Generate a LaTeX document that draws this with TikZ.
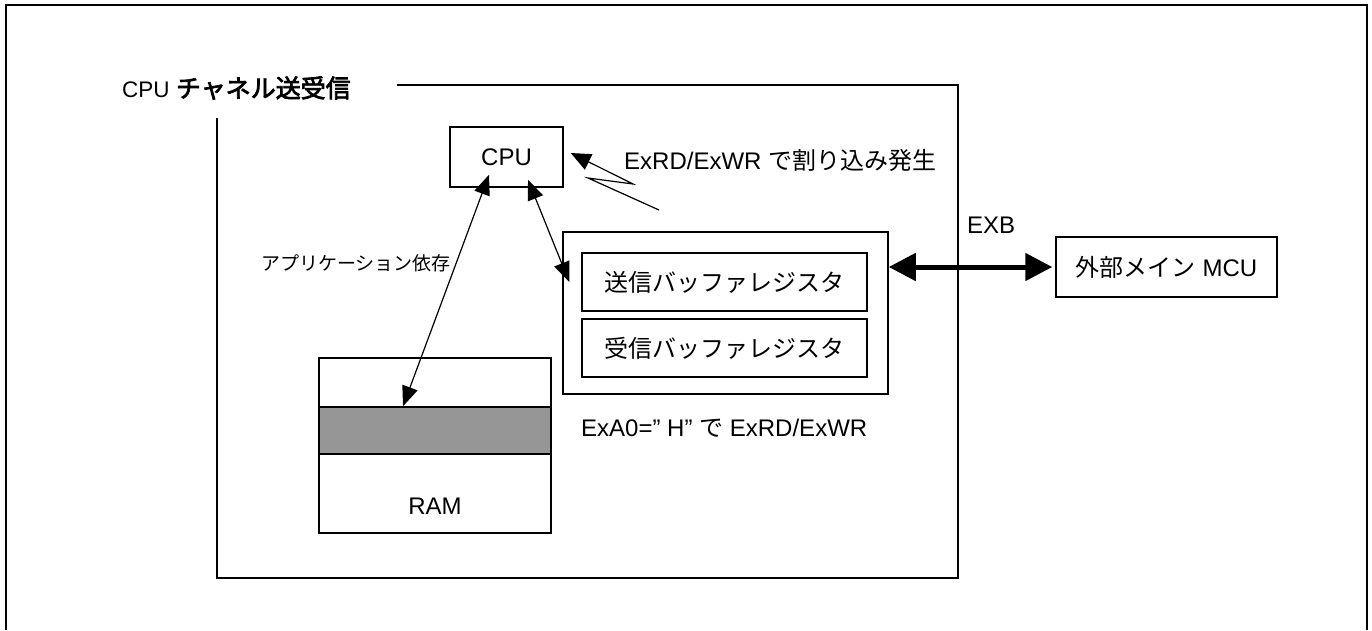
\documentclass[tikz,border=0pt]{standalone}
\usepackage{fontspec}
\setmainfont{Liberation Sans}
\newfontfamily\jp{Noto Sans CJK JP}
\newfontfamily\jpbf[FakeBold=3]{Noto Sans CJK JP}
\usepackage{xcolor}
\usetikzlibrary{arrows.meta}

\definecolor{areagray}{RGB}{150,150,150}

\tikzset{
  boxed/.style={draw, line width=1.5pt, inner sep=0pt},
  lbl/.style={font=\fontsize{24}{28}\selectfont, inner sep=0pt},
  link/.style={line width=1.2pt, {Triangle[length=20pt,width=16pt]}-{Triangle[length=20pt,width=16pt]}},
  bus/.style={line width=5pt, {Triangle[length=27pt,width=27pt]}-{Triangle[length=27pt,width=27pt]}},
}

\begin{document}
\begin{tikzpicture}[x=1pt, y=-1pt]
    \useasboundingbox (0,0) rectangle (1372,630);

    % Outer frame (open at the bottom)
    \draw[line width=2pt] (6,630) -- (6,5) -- (1367,5) -- (1367,630);

    % CPU channel region
    \node[lbl, anchor=west] (title) at (122,88) {\fontsize{22.5}{26}\selectfont CPU {\fontsize{25}{28}\selectfont\jpbf チャネル送受信}};
    \draw[line width=1.5pt] (397,85) -- (958,85) -- (958,578) -- (217,578) -- (217,118);

    % Blocks
    \node[boxed, lbl, minimum width=113pt, minimum height=60pt] (cpu) at (506.5,157) {CPU};
    \node[boxed, minimum width=325pt, minimum height=162pt] (bufbox) at (725.5,313) {};
    \node[boxed, lbl, minimum width=285pt, minimum height=58pt] (sendreg) at (724.5,282) {\jp 送信バッファレジスタ};
    \node[boxed, lbl, minimum width=285pt, minimum height=58pt] (recvreg) at (724.5,348) {\jp 受信バッファレジスタ};
    \node[boxed, minimum width=232pt, minimum height=175pt] (ram) at (435,445.5) {};
    \node[boxed, fill=areagray, minimum width=232pt, minimum height=47pt] (ramarea) at (435,430.5) {};
    \node[lbl] (ramtext) at (435,506) {RAM};
    \node[boxed, lbl, minimum width=221pt, minimum height=60pt] (mcu) at (1166.5,267) {{\jp 外部メイン} MCU};

    % Labels
    \node[lbl, anchor=west] (irq) at (624,160) {ExRD/ExWR {\jp で割り込み発生}};
    \node[lbl, anchor=west] (sel) at (581,428) {ExA0=” H” {\jp で} ExRD/ExWR};
    \node[lbl] (exb) at (991,225) {EXB};
    \node[lbl, font=\fontsize{19}{22}\selectfont, anchor=west] (appdep) at (261,263) {\jp アプリケーション依存};

    % Connections
    \draw[link] ([xshift=-17.5pt,yshift=13pt]cpu.south) -- ([xshift=-32pt]ramarea.north);
    \draw[link] ([xshift=21.5pt,yshift=8pt]cpu.south) -- ([xshift=-12pt]sendreg.west);
    \draw[bus] (bufbox.east |- mcu.west) -- ([xshift=-3pt]mcu.west);

    % Interrupt
    \coordinate (irqsrc) at (659,210);
    \draw[line width=1.2pt, -{Triangle[length=20pt,width=17pt]}] (irqsrc) -- (588,178) -- (633,184) -- ([xshift=7pt,yshift=4pt]cpu.east);
\end{tikzpicture}
\end{document}
